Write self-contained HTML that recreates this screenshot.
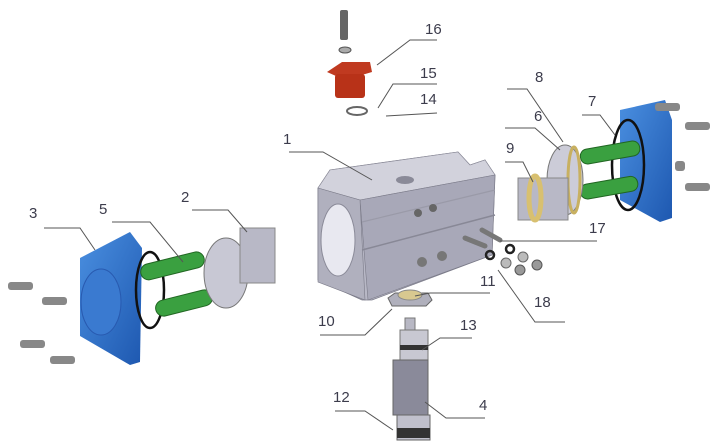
<!DOCTYPE html>
<html><head><style>html,body{margin:0;padding:0;background:#fff}svg{display:block}text{font-family:"Liberation Sans",sans-serif;font-size:15px;fill:#3c3c4c}</style></head>
<body>
<svg width="717" height="444" viewBox="0 0 717 444" xmlns="http://www.w3.org/2000/svg">
<defs>
<linearGradient id="gb" x1="0" y1="0" x2="1" y2="1"><stop offset="0" stop-color="#4a8fe0"/><stop offset="1" stop-color="#1e58b0"/></linearGradient>
</defs>
<!-- main body -->
<polygon points="318,188 330,170 458,152 470,165 485,160 495,175 492,255 372,300 362,300 318,280" fill="#b8b8c6" stroke="#7a7a88" stroke-width="0.8"/>
<polygon points="318,188 330,170 458,152 470,165 485,160 495,175 360,200" fill="#d2d2dc" stroke="#8a8a98" stroke-width="0.6"/>
<polygon points="360,200 495,175 492,255 368,300" fill="#a8a8b8" stroke="#7a7a88" stroke-width="0.6"/>
<polygon points="318,188 360,200 365,300 318,282" fill="#b0b0be" stroke="#7a7a88" stroke-width="0.6"/>
<ellipse cx="338" cy="240" rx="17" ry="36" fill="#e8e8f0" stroke="#8a8a98"/>
<line x1="362" y1="250" x2="495" y2="215" stroke="#888896" stroke-width="1.5"/>
<line x1="362" y1="222" x2="495" y2="190" stroke="#9a9aa8" stroke-width="1.2"/>
<ellipse cx="405" cy="180" rx="9" ry="4" fill="#8a8a98"/>
<circle cx="418" cy="213" r="4" fill="#666"/><circle cx="433" cy="208" r="4" fill="#666"/>
<circle cx="422" cy="262" r="5" fill="#777"/><circle cx="442" cy="256" r="5" fill="#777"/>
<!-- studs & nuts 17/18 -->
<line x1="465" y1="238" x2="485" y2="246" stroke="#777" stroke-width="5" stroke-linecap="round"/>
<line x1="482" y1="230" x2="500" y2="240" stroke="#777" stroke-width="5" stroke-linecap="round"/>
<circle cx="490" cy="255" r="4" fill="none" stroke="#222" stroke-width="2.5"/>
<circle cx="510" cy="249" r="4" fill="none" stroke="#222" stroke-width="2.5"/>
<circle cx="506" cy="263" r="5" fill="#bbb" stroke="#666"/><circle cx="523" cy="257" r="5" fill="#bbb" stroke="#666"/>
<circle cx="520" cy="270" r="5" fill="#999" stroke="#555"/><circle cx="537" cy="265" r="5" fill="#999" stroke="#555"/>
<!-- part 10/11 -->
<polygon points="388,298 395,293 428,293 432,300 426,306 392,306" fill="#b0b0bc" stroke="#666"/>
<ellipse cx="410" cy="295" rx="12" ry="5" fill="#d8c890" stroke="#888"/>
<!-- shaft -->
<rect x="405" y="318" width="10" height="12" fill="#b8b8c4" stroke="#777"/>
<rect x="400" y="330" width="28" height="30" fill="#c8c8d2" stroke="#777"/>
<rect x="400" y="345" width="28" height="5" fill="#333"/>
<rect x="393" y="360" width="35" height="55" fill="#8a8a9a" stroke="#666"/>
<rect x="397" y="415" width="33" height="25" fill="#c0c0cc" stroke="#666"/>
<rect x="397" y="428" width="33" height="10" fill="#333"/>
<!-- red part 16 -->
<rect x="340" y="10" width="8" height="30" fill="#666" rx="2"/>
<ellipse cx="345" cy="50" rx="6" ry="3" fill="#aaa" stroke="#555"/>
<polygon points="327,72 342,62 370,62 372,72 345,80" fill="#c03a20"/>
<rect x="335" y="74" width="30" height="24" fill="#b83218" rx="3"/>
<ellipse cx="357" cy="111" rx="10" ry="4" fill="none" stroke="#666" stroke-width="2"/>
<!-- left side -->
<polygon points="80,258 130,232 142,248 140,362 130,365 80,336" fill="url(#gb)"/>
<ellipse cx="101" cy="302" rx="20" ry="33" fill="#3a7ad0" stroke="#285ab0"/>
<ellipse cx="150" cy="290" rx="14" ry="38" fill="none" stroke="#111" stroke-width="2.5"/>
<rect x="140" y="258" width="65" height="16" rx="8" fill="#3aa040" stroke="#216622" transform="rotate(-14 172 266)"/>
<rect x="155" y="295" width="58" height="16" rx="8" fill="#3aa040" stroke="#216622" transform="rotate(-14 184 303)"/>
<ellipse cx="226" cy="273" rx="22" ry="35" fill="#c8c8d4" stroke="#777"/>
<rect x="240" y="228" width="35" height="55" fill="#b8b8c6" stroke="#888"/>
<g fill="#888"><rect x="8" y="282" width="25" height="8" rx="3"/><rect x="42" y="297" width="25" height="8" rx="3"/><rect x="20" y="340" width="25" height="8" rx="3"/><rect x="50" y="356" width="25" height="8" rx="3"/></g>
<!-- right side -->
<polygon points="620,110 665,100 672,120 672,218 660,222 620,200" fill="url(#gb)"/>
<ellipse cx="628" cy="165" rx="16" ry="45" fill="none" stroke="#111" stroke-width="2.5"/>
<rect x="580" y="145" width="60" height="15" rx="7" fill="#3aa040" stroke="#216622" transform="rotate(-10 610 152)"/>
<rect x="580" y="180" width="58" height="15" rx="7" fill="#3aa040" stroke="#216622" transform="rotate(-10 610 187)"/>
<ellipse cx="565" cy="180" rx="18" ry="35" fill="#ccccd8" stroke="#777"/>
<ellipse cx="574" cy="180" rx="6" ry="33" fill="none" stroke="#c8b060" stroke-width="3"/>
<rect x="518" y="178" width="50" height="42" fill="#b8b8c6" stroke="#888"/>
<ellipse cx="535" cy="198" rx="6" ry="22" fill="none" stroke="#d8c070" stroke-width="5"/>
<g fill="#888"><rect x="655" y="103" width="25" height="8" rx="3"/><rect x="685" y="122" width="25" height="8" rx="3"/><rect x="685" y="183" width="25" height="8" rx="3"/><rect x="675" y="161" width="10" height="10" rx="3"/></g>
<!-- leader lines -->
<g stroke="#555" stroke-width="1" fill="none">
<polyline points="437,40 410,40 377,65"/>
<polyline points="437,84 393,84 378,108"/>
<polyline points="437,113 386,116"/>
<polyline points="507,89 527,89 563,142"/>
<polyline points="505,128 535,128 560,150"/>
<polyline points="505,162 523,162 533,182"/>
<polyline points="582,115 600,115 615,135"/>
<polyline points="289,152 323,152 372,180"/>
<polyline points="192,210 228,210 247,232"/>
<polyline points="44,228 80,228 95,250"/>
<polyline points="112,222 150,222 183,262"/>
<polyline points="500,241 597,241"/>
<polyline points="490,293 430,293 415,296"/>
<polyline points="498,270 535,322 565,322"/>
<polyline points="320,335 365,335 392,309"/>
<polyline points="472,338 440,338 422,350"/>
<polyline points="335,411 365,411 393,430"/>
<polyline points="485,418 446,418 425,402"/>
</g>
<text x="425" y="34">16</text><text x="420" y="78">15</text><text x="420" y="104">14</text>
<text x="535" y="82">8</text><text x="588" y="106">7</text><text x="534" y="121">6</text><text x="506" y="153">9</text>
<text x="283" y="144">1</text><text x="181" y="202">2</text><text x="29" y="218">3</text><text x="99" y="214">5</text>
<text x="589" y="233">17</text><text x="480" y="286">11</text><text x="534" y="307">18</text>
<text x="318" y="326">10</text><text x="460" y="330">13</text><text x="333" y="402">12</text><text x="479" y="410">4</text>
</svg>
</body></html>
